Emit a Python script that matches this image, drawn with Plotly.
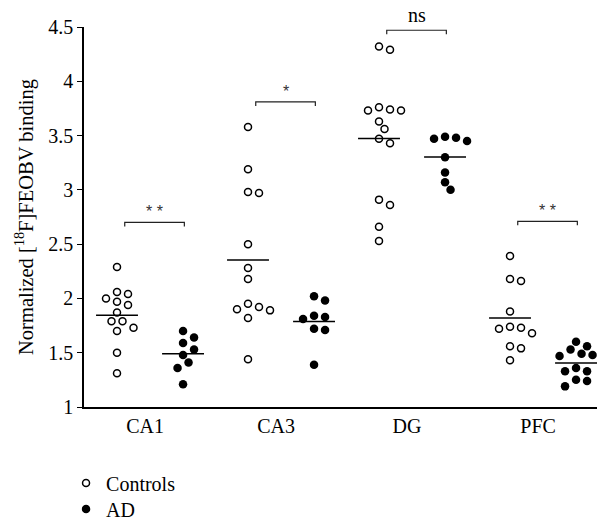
import plotly.graph_objects as go
import numpy as np

# ---------------- data ----------------
categories = ["CA1", "CA3", "DG", "PFC"]

controls_ca1 = [2.29, 2.06, 2.04, 2.00, 1.97, 1.94, 1.87, 1.79, 1.79, 1.73, 1.70, 1.50, 1.31]
controls_ca3 = [3.58, 3.19, 2.98, 2.97, 2.50, 2.28, 2.18, 1.95, 1.92, 1.90, 1.89, 1.82, 1.44]
controls_dg = [4.32, 4.29, 3.76, 3.74, 3.73, 3.73, 3.63, 3.56, 3.47, 3.43, 2.91, 2.86, 2.66, 2.53]
controls_pfc = [2.39, 2.18, 2.16, 1.88, 1.74, 1.73, 1.72, 1.68, 1.56, 1.54, 1.43]

ad_ca1 = [1.70, 1.64, 1.59, 1.53, 1.48, 1.41, 1.36, 1.21]
ad_ca3 = [2.02, 1.98, 1.84, 1.83, 1.81, 1.72, 1.71, 1.39]
ad_dg = [3.49, 3.48, 3.47, 3.45, 3.30, 3.16, 3.07, 3.00]
ad_pfc = [1.60, 1.56, 1.53, 1.49, 1.48, 1.47, 1.45, 1.36, 1.33, 1.33, 1.25, 1.24, 1.19]

significance = ["**", "*", "ns", "**"]

y_ticks = [1, 1.5, 2, 2.5, 3, 3.5, 4, 4.5]
y_tick_labels = ["1", "1.5", "2", "2.5", "3", "3.5", "4", "4.5"]

controls = [controls_ca1, controls_ca3, controls_dg, controls_pfc]
ad = [ad_ca1, ad_ca3, ad_dg, ad_pfc]

# ---------------- layout geometry ----------------
W, H = 597, 517
ML, MR, MT, MB = 84, 0, 27, 110
XR = [-0.466, 3.45]
YR = [1, 4.5]
px_per_x = (W - ML - MR) / (XR[1] - XR[0])
px_per_y = (H - MT - MB) / (YR[1] - YR[0])

CTRL_OFF = -0.214
AD_OFF = 0.29
MEAN_HALF = 0.16
BRACKET_L, BRACKET_R = -0.155, 0.30
bracket_heights = [2.70, 3.81, 4.47, 2.71]
FONT = "'Liberation Serif', 'Times New Roman', serif"


def swarm(values, center, diam=9.0, step=5.5):
    """Simple greedy beeswarm in pixel space; returns x positions in data units."""
    order = np.argsort(values)[::-1]
    placed = []
    xs = [0.0] * len(values)
    cands = [0.0]
    for k in range(1, 8):
        cands += [k * step, -k * step]
    for i in order:
        yp = values[i] * px_per_y
        for c in cands:
            ok = all((c - px) ** 2 + (yp - py) ** 2 >= diam ** 2 for px, py in placed)
            if ok:
                placed.append((c, yp))
                xs[i] = center + c / px_per_x
                break
    return xs


fig = go.Figure()

cx, cy, ax_, ay = [], [], [], []
mx, my = [], []
for i, (c, a) in enumerate(zip(controls, ad)):
    cx += swarm(c, i + CTRL_OFF)
    cy += c
    ax_ += swarm(a, i + AD_OFF)
    ay += a
    for grp, off in ((c, CTRL_OFF), (a, AD_OFF)):
        m = float(np.mean(grp))
        mx += [i + off - MEAN_HALF, i + off + MEAN_HALF, None]
        my += [m, m, None]

fig.add_trace(go.Scatter(x=mx, y=my, mode="lines", line=dict(color="black", width=1.5),
                         showlegend=False, hoverinfo="skip"))
fig.add_trace(go.Scatter(x=cx, y=cy, mode="markers", name="Controls", legend="legend",
                         marker=dict(symbol="circle-open", size=7, color="black",
                                     line=dict(width=1.5, color="black"))))
fig.add_trace(go.Scatter(x=ax_, y=ay, mode="markers", name="AD", legend="legend2",
                         marker=dict(symbol="circle", size=8.5, color="black",
                                     line=dict(width=0))))

# significance brackets
tick = 4 / px_per_y
bx, by = [], []
for i, h in enumerate(bracket_heights):
    bx += [i + BRACKET_L, i + BRACKET_L, i + BRACKET_R, i + BRACKET_R, None]
    by += [h - tick, h, h, h - tick, None]
    lab = significance[i]
    if lab == "ns":
        fig.add_annotation(x=i + (BRACKET_L + BRACKET_R) / 2, y=h, text=lab, showarrow=False,
                           yanchor="bottom", yshift=2, font=dict(family=FONT, size=20, color="black"))
    else:
        fig.add_annotation(x=i + (BRACKET_L + BRACKET_R) / 2, y=h, text=" ".join(lab), showarrow=False,
                           yanchor="bottom", yshift=0,
                           font=dict(family="'Liberation Sans', Arial, sans-serif", size=16, color="#333"))
fig.add_trace(go.Scatter(x=bx, y=by, mode="lines", line=dict(color="#222", width=1.2),
                         showlegend=False, hoverinfo="skip"))

plot_h = H - MT - MB
leg_common = dict(x=-0.035, xanchor="left", yanchor="middle", orientation="v",
                  font=dict(family=FONT, size=20), bgcolor="rgba(0,0,0,0)")

fig.update_layout(
    width=W, height=H,
    margin=dict(l=ML, r=MR, t=MT, b=MB, autoexpand=False),
    paper_bgcolor="white", plot_bgcolor="white",
    font=dict(family=FONT, size=20, color="black"),
    xaxis=dict(range=XR, tickmode="array", tickvals=list(range(len(categories))),
               ticktext=categories, showgrid=False, zeroline=False, automargin=False,
               showline=True, linecolor="black", linewidth=1.5, ticks="",
               tickfont=dict(family=FONT, size=20)),
    yaxis=dict(range=YR, tickmode="array", tickvals=y_ticks, ticktext=y_tick_labels,
               showgrid=False, zeroline=False, showline=True, linecolor="black",
               automargin=False,
               linewidth=1.5, ticks="outside", ticklen=5, tickwidth=1.2, tickcolor="black",
               tickfont=dict(family=FONT, size=20),
               title=dict(text="Normalized [<sup>18</sup>F]FEOBV binding",
                          font=dict(family=FONT, size=20.5), standoff=9)),
    legend=dict(y=-(483 - (MT + plot_h)) / plot_h, **leg_common),
    legend2=dict(y=-(509 - (MT + plot_h)) / plot_h, **leg_common),
    showlegend=True,
)

fig.write_html("out.html", config={"displayModeBar": False},
               post_script="document.body.style.margin='0px';document.body.style.overflow='hidden';")
